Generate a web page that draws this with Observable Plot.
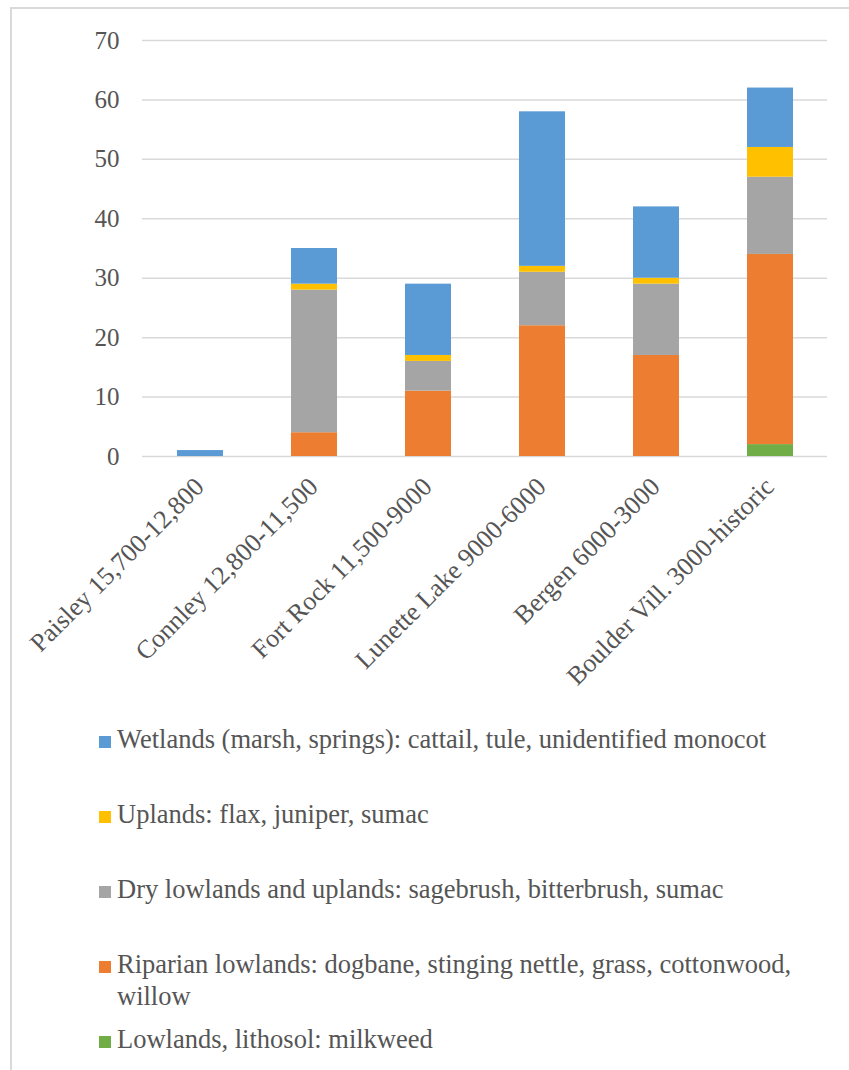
<!DOCTYPE html>
<html>
<head>
<meta charset="utf-8">
<script src="https://cdn.jsdelivr.net/npm/d3@7"></script>
<script src="https://cdn.jsdelivr.net/npm/@observablehq/plot@0.6"></script>
<style>
  body { margin: 0; background: #fff; }
  #wrap { position: relative; width: 849px; height: 1070px; overflow: hidden;
          font-family: "Liberation Serif", "Times New Roman", serif; color: #555; }
  #frame { position: absolute; left: 10px; top: 7px; width: 900px; height: 1100px;
           border: 2px solid #d9d9d9; box-sizing: border-box; }
  #chart { position: absolute; left: 0; top: 0; }
  .item { position: absolute; left: 99px; width: 720px; font-size: 26.5px; line-height: 32px; }
  .sw { position: absolute; left: 0; top: 13px; width: 12px; height: 12px; }
  .lbl { position: absolute; left: 18px; top: 0; width: 700px; }
</style>
</head>
<body>
<div id="wrap">
  <div id="frame"></div>
  <div id="chart"></div>
  <div id="legend"></div>
</div>
<script>
// Sites (period, years BP)
const sites = [
  "Paisley 15,700-12,800",
  "Connley 12,800-11,500",
  "Fort Rock 11,500-9000",
  "Lunette Lake 9000-6000",
  "Bergen 6000-3000",
  "Boulder Vill. 3000-historic"
];

// Habitat groups, bottom of the stack first
const groupNames = [
  "Lowlands, lithosol: milkweed",
  "Riparian lowlands: dogbane, stinging nettle, grass, cottonwood, willow",
  "Dry lowlands and uplands: sagebrush, bitterbrush, sumac",
  "Uplands: flax, juniper, sumac",
  "Wetlands (marsh, springs): cattail, tule, unidentified monocot"
];
const groupColors = ["#70ad47", "#ed7d31", "#a5a5a5", "#ffc000", "#5b9bd5"];

// Counts per site for each group
const lowlands = [0, 0, 0, 0, 0, 2];
const riparian = [0, 4, 11, 22, 17, 32];
const dryLowlandsUplands = [0, 24, 5, 9, 12, 13];
const uplands = [0, 1, 1, 1, 1, 5];
const wetlands = [1, 6, 12, 26, 12, 10];

const yTicks = [0, 10, 20, 30, 40, 50, 60, 70];

const groupValues = [lowlands, riparian, dryLowlandsUplands, uplands, wetlands];
const rows = [];
groupValues.forEach((vals, g) => {
  vals.forEach((v, i) => rows.push({site: sites[i], group: groupNames[g], value: v}));
});

const chart = Plot.plot({
  width: 849,
  height: 706,
  marginLeft: 142,
  marginRight: 22,
  marginTop: 40,
  marginBottom: 250,
  style: {fontFamily: "'Liberation Serif', 'Times New Roman', serif", fontSize: "25px",
          color: "#555", background: "transparent", overflow: "visible"},
  x: {type: "band", domain: sites, paddingInner: 0.6, paddingOuter: 0.3, label: null},
  y: {domain: [0, 70], label: null},
  color: {domain: groupNames, range: groupColors},
  marks: [
    Plot.gridY(yTicks, {stroke: "#d9d9d9", strokeOpacity: 1, strokeWidth: 1.5}),
    Plot.barY(rows, {x: "site", y: "value", fill: "group"}),
    Plot.axisY(yTicks, {tickSize: 0, tickPadding: 23, label: null}),
    Plot.axisX({tickRotate: -45, tickSize: 0, tickPadding: 26, dx: -1, label: null,
                fontSize: 26, textAnchor: "end", lineAnchor: "middle"})
  ]
});
document.getElementById("chart").appendChild(chart);

// Legend, top of the stack first
const legend = document.getElementById("legend");
const itemTops = [723, 798, 873, 948, 1023];
groupNames.slice().reverse().forEach((name, k) => {
  const item = document.createElement("div");
  item.className = "item";
  item.style.top = itemTops[k] + "px";
  const sw = document.createElement("div");
  sw.className = "sw";
  sw.style.background = groupColors[groupColors.length - 1 - k];
  const lbl = document.createElement("div");
  lbl.className = "lbl";
  lbl.textContent = name;
  item.appendChild(sw);
  item.appendChild(lbl);
  legend.appendChild(item);
});
</script>
</body>
</html>
